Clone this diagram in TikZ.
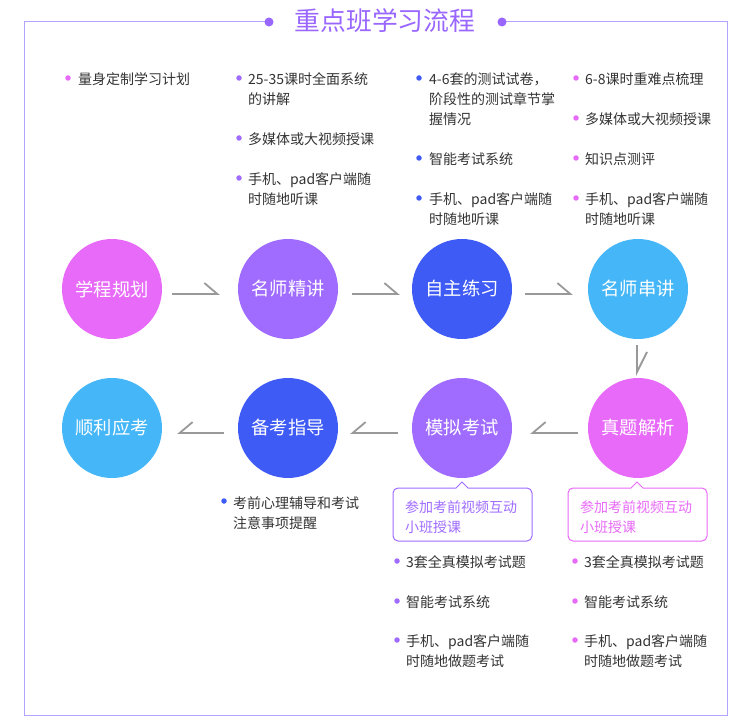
\documentclass[tikz,border=0pt]{standalone}
\usepackage{fontspec}
\setmainfont{Noto Sans CJK SC}
\usetikzlibrary{arrows.meta}
\definecolor{cpink}{HTML}{E86AF8}
\definecolor{cpurple}{HTML}{A06CFF}
\definecolor{cblue}{HTML}{3F5BF5}
\definecolor{clight}{HTML}{45B6F7}
\definecolor{ctitle}{HTML}{9966FF}
\definecolor{cframe}{HTML}{B3A3FF}
\definecolor{ctext}{HTML}{333333}
\definecolor{carrow}{HTML}{999999}
\tikzset{
  stage/.style={circle, minimum size=100pt, inner sep=0pt, text=white,
    font=\fontsize{18.3}{20}\selectfont},
  item/.style={anchor=north west, inner sep=0pt, align=left, text=ctext,
    yshift=-2.5pt, font=\fontsize{14}{20}\selectfont},
  bul/.style={circle, inner sep=0pt, minimum size=5.5pt},
  flowr/.style={draw=carrow, line width=1.8pt,
    -{Straight Barb[harpoon,length=13pt,width=22pt,line width=1.8pt]}},
  flowl/.style={draw=carrow, line width=1.8pt,
    -{Straight Barb[harpoon,swap,length=13pt,width=22pt,line width=1.8pt]}},
  flowd/.style={draw=carrow, line width=1.8pt,
    -{Straight Barb[harpoon,length=20pt,width=20pt,line width=1.8pt]}},
  callout/.style={line width=1pt, fill=white},
  callouttext/.style={anchor=north west, inner sep=0pt, align=left,
    yshift=-2.5pt, font=\fontsize{14}{19.5}\selectfont},
}
\begin{document}
\begin{tikzpicture}[x=1pt, y=-1pt]
\useasboundingbox (0,0) rectangle (750,727);
% frame and title
\coordinate (dl) at (269,22);
\coordinate (dr) at (502,22);
\draw[cframe, line width=1pt] (dl) -- (24,22) -- (24,715) -- (727,715) -- (727,22) -- (dr);
\fill[ctitle] (dl) circle (4.5);
\fill[ctitle] (dr) circle (4.5);
\node[text=ctitle, font=\fontsize{25.8}{28}\selectfont] (title) at (385,21) {重点班学习流程};

% stages
\node[stage, fill=cpink]   (c1) at (112,289) {学程规划};
\node[stage, fill=cpurple] (c2) at (288,289) {名师精讲};
\node[stage, fill=cblue]   (c3) at (462,289) {自主练习};
\node[stage, fill=clight]  (c4) at (638,289) {名师串讲};
\node[stage, fill=cpink]   (c5) at (638,428) {真题解析};
\node[stage, fill=cpurple] (c6) at (462,428) {模拟考试};
\node[stage, fill=cblue]   (c7) at (288,428) {备考指导};
\node[stage, fill=clight]  (c8) at (112,428) {顺利应考};

% connectors
\draw[flowr] ([xshift=10,yshift=-5]c1.east) -- ([xshift=-18,yshift=-5]c2.west);
\draw[flowr] ([xshift=14,yshift=-5]c2.east) -- ([xshift=-12,yshift=-5]c3.west);
\draw[flowr] ([xshift=13,yshift=-5]c3.east) -- ([xshift=-15,yshift=-5]c4.west);
\draw[flowd] ([xshift=-1,yshift=-6]c4.south) -- ([xshift=-1,yshift=2]c5.north);
\draw[flowl] ([xshift=-10,yshift=-5]c5.west) -- ([xshift=18,yshift=-5]c6.east);
\draw[flowl] ([xshift=-14,yshift=-5]c6.west) -- ([xshift=12,yshift=-5]c7.east);
\draw[flowl] ([xshift=-14,yshift=-5]c7.west) -- ([xshift=15,yshift=-5]c8.east);

% column 1
\node[bul, fill=cpink] (b11) at (68,78) {};
\node[item] (t11) at (78,70) {量身定制学习计划};
% column 2
\node[bul, fill=cpurple] (b21) at (239,78) {};
\node[item] (t21) at (248,70) {25-35课时全面系统\\的讲解};
\node[bul, fill=cpurple] (b22) at (239,138) {};
\node[item] (t22) at (248,130) {多媒体或大视频授课};
\node[bul, fill=cpurple] (b23) at (239,178) {};
\node[item] (t23) at (248,170) {手机、pad客户端随\\时随地听课};
% column 3
\node[bul, fill=cblue] (b31) at (419,78) {};
\node[item] (t31) at (429,70) {4-6套的测试试卷，\\阶段性的测试章节掌\\握情况};
\node[bul, fill=cblue] (b32) at (419,158) {};
\node[item] (t32) at (429,150) {智能考试系统};
\node[bul, fill=cblue] (b33) at (419,198) {};
\node[item] (t33) at (429,190) {手机、pad客户端随\\时随地听课};
% column 4
\node[bul, fill=cpink] (b41) at (576,78) {};
\node[item] (t41) at (585,70) {6-8课时重难点梳理};
\node[bul, fill=cpink] (b42) at (576,118) {};
\node[item] (t42) at (585,110) {多媒体或大视频授课};
\node[bul, fill=cpink] (b43) at (576,158) {};
\node[item] (t43) at (585,150) {知识点测评};
\node[bul, fill=cpink] (b44) at (576,198) {};
\node[item] (t44) at (585,190) {手机、pad客户端随\\时随地听课};

% callouts
\draw[callout, draw=cpurple] (462,482) -- (468,488) [rounded corners=5] -- (532,488) -- (532,541) -- (393,541) -- (393,488) [sharp corners] -- (456,488) -- cycle;
\node[callouttext, text=cpurple] (k1) at (405,498) {参加考前视频互动\\小班授课};
\draw[callout, draw=cpink] (637,482) -- (643,488) [rounded corners=5] -- (707,488) -- (707,541) -- (568,541) -- (568,488) [sharp corners] -- (631,488) -- cycle;
\node[callouttext, text=cpink] (k2) at (580,498) {参加考前视频互动\\小班授课};

% bottom lists
\node[bul, fill=cpurple] (ba1) at (397,561) {};
\node[item] (ta1) at (406,553) {3套全真模拟考试题};
\node[bul, fill=cpurple] (ba2) at (397,601) {};
\node[item] (ta2) at (406,593) {智能考试系统};
\node[bul, fill=cpurple] (ba3) at (397,640) {};
\node[item] (ta3) at (406,632) {手机、pad客户端随\\时随地做题考试};
\node[bul, fill=cpink] (bb1) at (575,561) {};
\node[item] (tb1) at (584,553) {3套全真模拟考试题};
\node[bul, fill=cpink] (bb2) at (575,601) {};
\node[item] (tb2) at (584,593) {智能考试系统};
\node[bul, fill=cpink] (bb3) at (575,640) {};
\node[item] (tb3) at (584,632) {手机、pad客户端随\\时随地做题考试};
\node[bul, fill=cblue] (bc1) at (224,501) {};
\node[item] (tc1) at (233,494) {考前心理辅导和考试\\注意事项提醒};
\end{tikzpicture}
\end{document}
